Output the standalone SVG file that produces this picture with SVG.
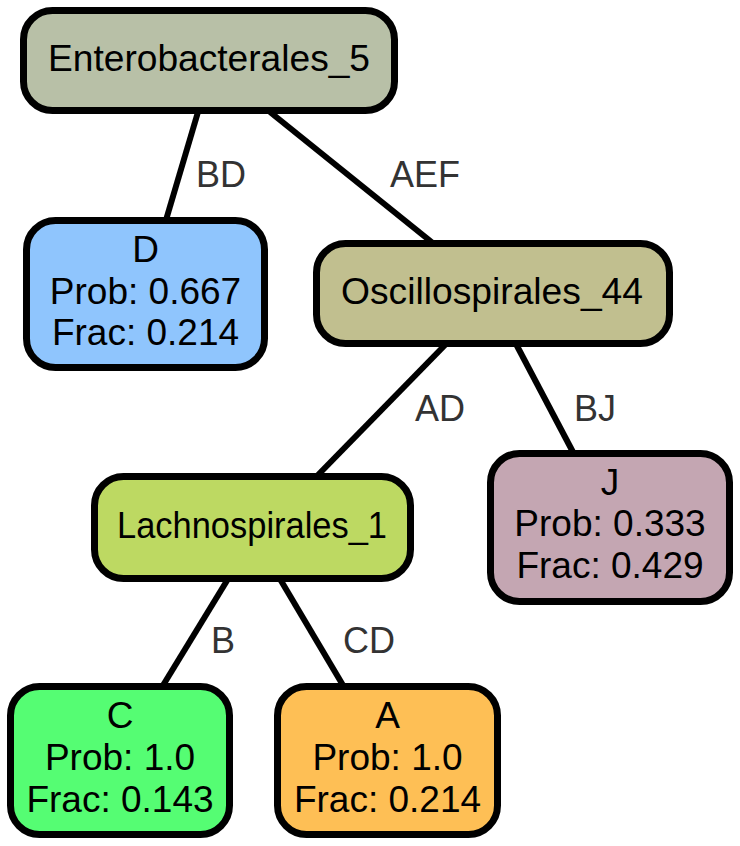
<svg xmlns="http://www.w3.org/2000/svg" width="740" height="846" viewBox="0 0 740 846">
<style>
.n rect{stroke:#000;stroke-width:7}
.n text{font-family:"Liberation Sans",Arial,Helvetica,sans-serif;font-size:37px;fill:#000;text-anchor:middle}
.e line{stroke:#000;stroke-width:6}
.e text{font-family:"Liberation Sans",Arial,Helvetica,sans-serif;font-size:36px;fill:#333}
</style>
<rect width="740" height="846" fill="#fff"/>
<g id="edges" class="e">
<line x1="198" y1="112" x2="166" y2="220"/>
<text x="196" y="187">BD</text>
<line x1="270" y1="112" x2="434" y2="244"/>
<text x="390" y="187">AEF</text>
<line x1="446" y1="344" x2="316" y2="477"/>
<text x="415" y="421">AD</text>
<line x1="516" y1="344" x2="574" y2="454"/>
<text x="574" y="421">BJ</text>
<line x1="228" y1="579" x2="162" y2="687"/>
<text x="211" y="653">B</text>
<line x1="280" y1="579" x2="344" y2="687"/>
<text x="343" y="653">CD</text>
</g>
<g id="Enterobacterales_5" class="n">
<rect x="23.5" y="10.5" width="371" height="100" rx="29" fill="#b8c0a7"/>
<text x="209" y="71" textLength="322" lengthAdjust="spacingAndGlyphs">Enterobacterales_5</text>
</g>
<g id="D" class="n">
<rect x="26.5" y="220.5" width="238" height="147" rx="29" fill="#8fc5fd"/>
<text x="145.5" y="262">D</text>
<text x="145.5" y="304">Prob: 0.667</text>
<text x="145.5" y="345">Frac: 0.214</text>
</g>
<g id="Oscillospirales_44" class="n">
<rect x="316.5" y="243.5" width="353" height="100" rx="29" fill="#c1bf8f"/>
<text x="492" y="304" textLength="302" lengthAdjust="spacingAndGlyphs">Oscillospirales_44</text>
</g>
<g id="J" class="n">
<rect x="490.5" y="453.5" width="239" height="148" rx="29" fill="#c4a6b2"/>
<text x="610" y="495">J</text>
<text x="610" y="536">Prob: 0.333</text>
<text x="610" y="578">Frac: 0.429</text>
</g>
<g id="Lachnospirales_1" class="n">
<rect x="94.5" y="476.5" width="316" height="102" rx="29" fill="#bdd962"/>
<text x="252" y="538" textLength="270" lengthAdjust="spacingAndGlyphs">Lachnospirales_1</text>
</g>
<g id="C" class="n">
<rect x="10.5" y="686.5" width="219" height="148" rx="29" fill="#55fd73"/>
<text x="120" y="728">C</text>
<text x="120" y="770">Prob: 1.0</text>
<text x="120" y="812">Frac: 0.143</text>
</g>
<g id="A" class="n">
<rect x="277.5" y="686.5" width="220" height="148" rx="29" fill="#febf55"/>
<text x="387.5" y="728">A</text>
<text x="387.5" y="770">Prob: 1.0</text>
<text x="387.5" y="812">Frac: 0.214</text>
</g>
</svg>
